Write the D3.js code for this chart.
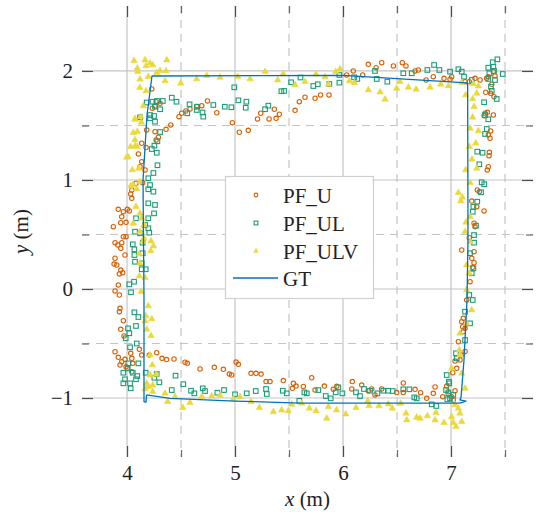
<!DOCTYPE html>
<html>
<head>
<meta charset="utf-8">
<script src="https://cdn.jsdelivr.net/npm/d3@7"></script>
<style>
  html, body { margin: 0; padding: 0; background: #fff; }
  svg { display: block; }
  svg text { font-family: "Liberation Serif", "DejaVu Serif", serif; }
</style>
</head>
<body>
<svg id="chart" width="536" height="515"></svg>
<script>
// Axis ticks
const xTicks = [4, 5, 6, 7];
const xMinorTicks = [4.5, 5.5, 6.5, 7.5];
const yTicks = [-1, 0, 1, 2];
const yMinorTicks = [-0.5, 0.5, 1.5];
const xDomain = [3.583, 7.759];
const yDomain = [-1.541, 2.596];

const seriesNames = ["PF_U", "PF_UL", "PF_ULV", "GT"];

// Particle filter estimates, uniform prior (x, y in metres)
const pfU = [
  [4.229,1.835],[4.269,1.718],[4.259,1.679],[4.234,1.658],[4.306,1.704],[4.182,1.459],[4.259,1.443],[4.29,1.392],
  [4.269,1.367],[4.361,1.465],[4.405,1.505],[4.481,1.581],[4.136,1.337],[4.176,1.298],[4.105,1.239],[4.136,1.168],
  [4.12,1.122],[4.167,1.092],[4.145,0.975],[4.083,0.97],[4.044,0.908],[4.034,0.872],[4.044,0.832],[4.003,0.731],
  [4.021,0.716],[3.966,0.709],[3.919,0.731],[3.951,0.663],[3.991,0.612],[3.942,0.608],[3.873,0.572],[3.966,0.48],
  [3.991,0.48],[3.889,0.425],[3.914,0.404],[3.951,0.425],[3.942,0.373],[3.889,0.282],[3.981,0.312],[3.88,0.229],
  [3.905,0.22],[3.942,0.174],[3.96,0.15],[3.929,0.138],[3.919,0.037],[3.889,-0.018],[3.929,-0.055],[3.935,-0.177],
  [3.929,-0.208],[3.966,-0.291],[3.942,-0.37],[3.972,-0.431],[3.889,-0.575],[3.919,-0.627],[3.981,-0.645],[3.935,-0.697],
  [3.991,-0.713],[4.034,-0.59],[4.044,-0.636],[4.053,-0.682],[4.114,-0.553],[4.136,-0.606],[4.003,-0.728],[4.044,-0.759],
  [3.951,-0.667],
  [4.206,-0.606],[4.275,-0.584],[4.324,-0.636],[4.366,-0.647],[4.435,-0.642],[4.537,-0.672],[4.558,-0.682],[4.676,-0.734],
  [4.808,-0.718],[4.892,-0.737],[4.947,-0.78],[4.969,-0.789],[5.009,-0.67],[5.031,-0.691],[5.148,-0.773],[5.194,-0.773],
  [5.241,-0.78],[5.287,-0.849],[5.324,-0.849],[5.447,-0.84],[5.54,-0.865],[5.565,-0.89],[5.531,-0.911],[5.633,-0.894],
  [5.71,-0.814],[5.741,-0.927],[5.827,-0.89],[5.91,-0.92],[5.942,-0.893],[6.086,-0.849],[6.081,-0.917],[6.173,-0.881],
  [6.234,-0.933],[6.266,-0.917],[6.296,-0.972],[6.358,-0.917],[6.497,-0.95],[6.558,-0.862],[6.558,-0.95],[6.667,-0.92],
  [6.718,-0.951],[6.775,-1.003],[6.836,-0.957],[6.852,-0.899],[6.923,-0.988],[6.96,-0.89],[6.975,-0.942],[7.006,-0.988],
  [7.037,-0.933],[7.021,-1.018],
  [7.016,-0.768],[7.037,-0.661],[7.083,-0.651],[7.093,-0.606],[7.13,-0.573],[7.053,-0.728],[7.068,-0.483],[7.114,-0.392],
  [7.13,-0.361],[7.108,-0.346],[7.099,-0.3],[7.114,-0.269],[7.145,-0.101],[7.176,0.067],[7.201,0.199],[7.213,0.241],
  [7.192,0.282],[7.213,0.342],[7.099,0.358],[7.169,0.471],[7.222,0.572],[7.213,0.603],[7.306,0.716],[7.238,0.755],
  [7.192,0.807],[7.262,0.893],[7.243,0.908],[7.336,1.092],[7.345,1.122],[7.352,1.223],[7.355,1.254],[7.361,1.383],
  [7.345,1.413],[7.367,1.45],[7.392,1.596],[7.306,1.59],[7.336,1.621],[7.315,1.612],[7.398,1.764],[7.367,1.795],
  [7.321,1.805],[7.377,1.878],[7.345,1.948],[7.33,1.933],[7.269,1.917],[7.222,1.933],[7.169,1.902],[7.13,1.902],
  [7.392,1.994],[7.407,1.954],
  [7.006,1.948],[6.991,1.924],[6.935,1.933],[6.836,1.948],[6.769,1.917],[6.697,2.009],[6.667,2.0],[6.583,2.046],
  [6.549,2.076],[6.466,2.046],[6.358,2.076],[6.306,2.03],[6.234,2.061],[6.182,1.963],[6.095,2.0],[6.034,1.963],
  [5.87,1.78],[5.792,1.78],[5.741,1.75],[5.648,1.759],[5.595,1.718],[5.556,1.639],[5.41,1.603],[5.38,1.566],
  [5.364,1.649],[5.315,1.56],[5.238,1.612],[5.208,1.56],[5.123,1.456],[5.04,1.438],[4.975,1.526],[4.831,1.617],
  [4.745,1.725],[4.692,1.682],[4.645,1.674],[4.583,1.651],[4.544,1.633],[4.506,1.612]
];

// Particle filter estimates with landmarks
const pfUL = [
  [4.182,1.711],[4.236,1.718],[4.278,1.725],[4.331,1.725],[4.414,1.755],[4.458,1.718],[4.259,1.672],[4.306,1.649],
  [4.213,1.596],[4.25,1.587],[4.259,1.535],[4.12,1.575],[4.213,1.566],[4.306,1.44],[4.281,1.355],[4.253,1.315],
  [4.229,1.284],[4.275,1.25],[4.282,1.135],[4.244,1.064],[4.197,1.016],[4.213,0.954],[4.197,0.915],[4.244,0.893],
  [4.197,0.786],[4.259,0.771],[4.083,0.649],[4.197,0.649],[4.25,0.694],[4.167,0.587],[4.197,0.557],[4.074,0.526],
  [4.12,0.511],[4.206,0.517],[4.053,0.41],[4.068,0.364],[4.068,0.312],[4.145,0.425],[4.145,0.328],[4.074,0.25],
  [4.136,0.236],[4.136,0.181],[4.173,0.181],[4.065,0.067],[4.021,0.043],[4.037,-0.03],[4.068,-0.214],[4.105,-0.257],
  [4.083,-0.339],[4.009,-0.361],[4.021,-0.406],[3.988,-0.452],[4.028,-0.535],[4.09,-0.5],[4.012,-0.682],[4.105,-0.682],
  [4.006,-0.728],[3.966,-0.768],[4.053,-0.768],[4.095,-0.798],[3.981,-0.828],[3.966,-0.865],[4.028,-0.865],[4.034,-0.911],
  [4.083,-0.828],[4.173,-0.768],[4.275,-0.78],[4.253,-0.814],[4.299,-0.856],
  [4.449,-0.795],[4.521,-0.873],[4.414,-0.927],[4.593,-0.933],[4.623,-0.957],[4.701,-0.911],[4.722,-0.936],[4.836,-0.951],
  [4.898,-0.927],[5.0,-0.966],[5.108,-0.957],[5.192,-0.936],[5.287,-0.917],[5.294,-0.963],[5.442,-0.933],[5.479,-0.957],
  [5.595,-1.025],[5.642,-0.948],[5.664,-0.957],[5.771,-0.927],[5.84,-0.982],[5.886,-1.003],[5.932,-0.948],[5.956,-0.902],
  [5.994,-0.957],[6.12,-0.948],[6.157,-0.982],[6.194,-0.917],[6.25,-0.933],[6.318,-0.957],[6.373,-0.933],[6.419,-0.933],
  [6.46,-0.936],[6.558,-0.92],[6.614,-0.92],[6.66,-0.994],[6.682,-1.003],[6.821,-1.058],[6.864,-1.073],[6.954,-0.927],
  [6.966,-1.012],[6.991,-1.003],[6.975,-0.957],[7.021,-0.972],[6.96,-0.789],[6.981,-0.85],[6.984,-0.865],
  [7.046,-0.59],[7.053,-0.636],[7.13,-0.468],[7.176,-0.315],[7.13,-0.208],[7.201,-0.101],[7.169,-0.055],[7.192,0.144],
  [7.207,0.19],[7.176,0.328],[7.213,0.425],[7.213,0.495],[7.231,0.581],[7.201,0.709],[7.207,0.755],[7.243,0.801],
  [7.278,0.887],[7.284,0.979],[7.308,0.961],[7.262,1.144],[7.243,1.26],[7.292,1.25],[7.315,1.422],[7.331,1.468],
  [7.345,1.557],[7.315,1.596],[7.306,1.713],[7.423,1.743],[7.377,1.817],[7.37,1.856],[7.345,1.927],[7.407,1.917],
  [7.479,1.972],[7.355,1.979],[7.398,2.0],[7.392,2.039],[7.345,2.03],[7.386,2.08],[7.429,2.107],
  [7.192,1.917],[7.12,1.948],[7.099,1.994],[7.068,2.016],[6.991,1.994],[6.892,2.009],[6.843,2.055],[6.781,2.009],
  [6.636,1.979],[6.558,1.979],[6.41,1.902],[6.312,1.927],[6.296,2.0],[6.132,1.927],[6.102,1.942],[5.966,1.893],
  [5.966,1.963],[5.873,1.881],[5.766,1.878],[5.725,1.862],[5.606,1.94],[5.519,1.896],[5.429,1.814],[5.454,1.817],
  [5.308,1.682],[5.278,1.649],[5.105,1.718],[5.099,1.663],[5.031,1.731],[4.993,1.85],[4.966,1.667],[4.905,1.672],
  [4.799,1.688],[4.706,1.581],[4.699,1.619],[4.65,1.672],[4.645,1.642],[4.579,1.694],[4.558,1.612]
];

// Particle filter estimates with landmarks and visual odometry
const pfULV = [
  [4.065,2.094],[4.167,2.1],[4.213,2.071],[4.368,2.1],[4.095,2.025],[4.176,2.046],[4.238,2.055],[4.099,1.994],
  [4.12,1.924],[4.197,1.948],[4.275,1.984],[4.306,2.003],[4.361,2.0],[4.352,1.908],[4.497,1.887],[4.645,1.927],
  [4.738,1.957],[4.861,1.942],[5.025,1.948],[5.139,1.927],[5.278,1.994],[5.395,1.917],[5.447,1.972],[5.556,1.872],
  [5.648,1.902],[4.118,1.847],[4.176,1.817],[4.151,1.679],[4.074,1.56],[4.127,1.581],[4.132,1.529],[4.034,1.305],
  [4.077,1.315],[4.095,1.305],[4.009,1.214],[4.074,1.367],[4.049,1.092],[4.108,1.107],[4.034,0.945],[4.09,0.917],
  [5.75,1.97],[5.833,1.945],[5.932,1.994],[5.972,2.018],[5.864,1.878],
  [6.058,1.908],[6.105,1.893],[6.234,1.826],[6.343,1.805],[6.389,1.74],[6.497,1.841],[6.528,1.902],[6.605,1.85],
  [6.676,1.832],[6.806,1.85],[6.905,1.878],[6.975,1.862],[7.099,1.893],[7.136,1.78],[7.206,1.881],[7.253,1.862],
  [7.238,1.795],[7.2,1.743],[7.213,1.672],[7.2,1.575],[7.176,1.474],[7.229,1.337],[7.169,1.305],[7.194,1.19],
  [7.238,1.107],[7.136,1.092],[7.176,0.975],[7.068,0.883],[7.105,0.841],[7.253,1.45],[7.09,0.807],[7.176,0.663],
  [7.139,0.612],[7.13,0.526],
  [7.176,0.434],[7.145,0.22],[7.169,0.144],[7.145,-0.009],[7.191,-0.193],[7.145,-0.315],[7.083,-0.406],[7.077,-0.56],
  [7.083,-0.606],[7.099,-0.773],[7.006,-0.728],[7.13,-0.911],[7.037,-1.064],[7.068,-1.094],[7.083,-1.14],[7.006,-1.172],
  [7.099,-1.217],[7.021,-1.226],[7.046,-1.263],[6.935,-1.226],[6.861,-1.135],[6.852,-1.202],[6.781,-1.165],
  [4.074,1.557],[4.095,1.443],[4.058,1.434],[3.997,1.208],[4.12,0.984],[4.053,0.954],[4.083,0.755],[4.12,0.694],
  [4.136,0.649],[4.058,0.603],[4.157,0.587],[4.12,0.526],[4.157,0.465],[4.145,0.434],[4.222,0.44],[4.244,0.394],
  [4.219,0.349],[4.114,0.321],[4.12,0.236],[4.114,0.119],[4.167,0.104],[4.13,-0.025],[4.197,-0.156],[4.173,-0.245],
  [4.229,-0.275],[4.167,-0.294],[4.182,-0.37],[4.222,-0.428],[4.213,-0.606],[4.234,-0.697],[4.213,-0.789],[4.269,-0.783],
  [4.182,-0.865],[4.238,-0.881],[4.197,-0.896],[4.167,-0.917],[4.238,-0.942],[4.352,-0.957],[4.444,-0.988],[4.377,-1.034],
  [4.516,-1.089],[4.583,-1.043],[4.692,-0.988],[4.784,-0.982],[4.861,-0.975],[4.984,-1.009],[5.046,-0.988],[5.148,-1.034],
  [5.225,-1.089],[5.355,-1.126],[5.432,-1.11],[5.494,-1.117],[5.525,-1.058],[5.618,-1.049],[5.688,-1.094],[5.75,-1.117],
  [5.849,-1.186],[5.864,-1.08],[5.94,-1.11],[6.025,-1.147],[6.12,-1.089],[6.229,-1.028],[6.241,-1.071],[6.333,-1.073],
  [6.419,-1.055],[6.456,-1.094],[6.534,-1.049],[6.583,-1.14],[6.59,-1.202],[6.682,-1.177],[6.713,-1.186]
];

// Ground-truth trajectory
const gtPath = [
  [4.18,-0.972],[4.398,-1.003],[5.0,-1.028],[5.602,-1.046],[7.083,-1.046],[7.139,-1.028],[7.083,-1.018],
  [7.093,-0.99],[7.12,-0.651],[7.148,-0.101],[7.157,0.45],[7.154,1.872],[7.148,1.89],[6.0,1.959],
  [4.231,1.954],[4.185,1.596],[4.148,1.0],[4.157,-0.101],[4.157,-1.032],[4.176,-1.037],[4.18,-0.972]
];

const colors = { u: "#d95f02", ul: "#1b9e77", ulv: "#ebd83a", gt: "#0072bd" };

const svg = d3.select("#chart");
const plotLeft = 82, plotRight = 533, plotTop = 6, plotBottom = 457;
const x = d3.scaleLinear().domain(xDomain).range([plotLeft, plotRight]);
const y = d3.scaleLinear().domain(yDomain).range([plotBottom, plotTop]);

// Grid lines
const grid = svg.append("g");
grid.selectAll(".vmaj").data(xTicks).join("line")
  .attr("x1", d => x(d)).attr("x2", d => x(d)).attr("y1", plotTop).attr("y2", plotBottom)
  .attr("stroke", "#c4c4c4").attr("stroke-width", 1.2);
grid.selectAll(".hmaj").data(yTicks).join("line")
  .attr("x1", plotLeft).attr("x2", plotRight).attr("y1", d => y(d)).attr("y2", d => y(d))
  .attr("stroke", "#c4c4c4").attr("stroke-width", 1.2);
grid.selectAll(".vmin").data(xMinorTicks).join("line")
  .attr("x1", d => x(d)).attr("x2", d => x(d)).attr("y1", plotTop).attr("y2", plotBottom)
  .attr("stroke", "#c4c4c4").attr("stroke-width", 1.2).attr("stroke-dasharray", "8,6");
grid.selectAll(".hmin").data(yMinorTicks).join("line")
  .attr("x1", plotLeft).attr("x2", plotRight).attr("y1", d => y(d)).attr("y2", d => y(d))
  .attr("stroke", "#c4c4c4").attr("stroke-width", 1.2).attr("stroke-dasharray", "8,6");

// Tick marks on all four sides, drawn inward
function styleAxis(g) {
  g.select(".domain").remove();
  g.selectAll(".tick line").attr("stroke", "#4d4d4d").attr("stroke-width", 1.2);
  g.selectAll(".tick text").attr("font-family", null).attr("font-size", 21).attr("fill", "#222");
}
function minorTicks(g, axis) {
  g.call(axis);
  g.select(".domain").remove();
  g.selectAll(".tick text").remove();
  g.selectAll(".tick line").attr("stroke", "#6a6a6a").attr("stroke-width", 1.2);
}
const fmt = d => d < 0 ? "\u2212" + Math.abs(d) : String(d);

function axisGroup(tx, ty) {
  return svg.append("g").attr("transform", `translate(${tx},${ty})`).attr("font-family", null);
}
axisGroup(0, plotBottom)
  .call(d3.axisBottom(x).tickValues(xTicks).tickSize(-11).tickPadding(8).tickFormat(fmt)).call(styleAxis);
axisGroup(0, plotTop)
  .call(d3.axisTop(x).tickValues(xTicks).tickSize(-11).tickFormat("")).call(styleAxis);
axisGroup(plotLeft, 0)
  .call(d3.axisLeft(y).tickValues(yTicks).tickSize(-11).tickPadding(9).tickFormat(fmt)).call(styleAxis);
axisGroup(plotRight, 0)
  .call(d3.axisRight(y).tickValues(yTicks).tickSize(-11).tickFormat("")).call(styleAxis);

axisGroup(0, plotBottom).call(g => minorTicks(g, d3.axisBottom(x).tickValues(xMinorTicks).tickSize(-7)));
axisGroup(0, plotTop).call(g => minorTicks(g, d3.axisTop(x).tickValues(xMinorTicks).tickSize(-7)));
axisGroup(plotLeft, 0).call(g => minorTicks(g, d3.axisLeft(y).tickValues(yMinorTicks).tickSize(-7)));
axisGroup(plotRight, 0).call(g => minorTicks(g, d3.axisRight(y).tickValues(yMinorTicks).tickSize(-7)));

// Axis groups get a font-family attribute from d3; drop it so the stylesheet applies
svg.selectAll("g").attr("font-family", null);

// Scatter series
const plot = svg.append("g");
plot.append("g").selectAll("circle").data(pfU).join("circle")
  .attr("cx", d => x(d[0])).attr("cy", d => y(d[1])).attr("r", 2.2)
  .attr("fill", "none").attr("stroke", colors.u).attr("stroke-width", 1.1);
plot.append("g").selectAll("rect").data(pfUL).join("rect")
  .attr("x", d => x(d[0]) - 2.3).attr("y", d => y(d[1]) - 2.3).attr("width", 4.6).attr("height", 4.6)
  .attr("fill", "none").attr("stroke", colors.ul).attr("stroke-width", 1.1);
const tri = d3.symbol().type(d3.symbolTriangle).size(18);
plot.append("g").selectAll("path").data(pfULV).join("path")
  .attr("transform", d => `translate(${x(d[0])},${y(d[1])})`).attr("d", tri)
  .attr("fill", colors.ulv).attr("stroke", colors.ulv).attr("stroke-width", 0.6);

// Ground truth
const line = d3.line().x(d => x(d[0])).y(d => y(d[1]));
plot.append("path").datum(gtPath).attr("d", line)
  .attr("fill", "none").attr("stroke", colors.gt).attr("stroke-width", 1.3).attr("stroke-linejoin", "round");

// Axis titles
svg.append("text").attr("x", (plotLeft + plotRight) / 2).attr("y", 506).attr("text-anchor", "middle")
  .attr("font-size", 21).attr("fill", "#222")
  .call(t => { t.append("tspan").attr("font-style", "italic").text("x"); t.append("tspan").text(" (m)"); });
svg.append("text").attr("transform", `translate(28,${(plotTop + plotBottom) / 2}) rotate(-90)`).attr("text-anchor", "middle")
  .attr("font-size", 21).attr("fill", "#222")
  .call(t => { t.append("tspan").attr("font-style", "italic").text("y"); t.append("tspan").text(" (m)"); });

// Legend
const lg = svg.append("g");
lg.append("rect").attr("x", 225.5).attr("y", 176.5).attr("width", 148).attr("height", 122)
  .attr("fill", "#fff").attr("stroke", "#cfcfcf").attr("stroke-width", 1.2);
const rowY = [195, 223, 251, 278];
const mx = 256;
lg.append("circle").attr("cx", mx).attr("cy", rowY[0]).attr("r", 1.9)
  .attr("fill", "none").attr("stroke", colors.u).attr("stroke-width", 1.1);
lg.append("rect").attr("x", mx - 1.9).attr("y", rowY[1] - 1.9).attr("width", 3.8).attr("height", 3.8)
  .attr("fill", "none").attr("stroke", colors.ul).attr("stroke-width", 1.1);
lg.append("path").attr("transform", `translate(${mx},${rowY[2]})`).attr("d", d3.symbol().type(d3.symbolTriangle).size(10))
  .attr("fill", colors.ulv).attr("stroke", colors.ulv).attr("stroke-width", 0.5);
lg.append("line").attr("x1", 233).attr("x2", 278).attr("y1", rowY[3]).attr("y2", rowY[3])
  .attr("stroke", colors.gt).attr("stroke-width", 1.3);
lg.selectAll("text").data(seriesNames).join("text")
  .attr("x", 283).attr("y", (d, i) => rowY[i] + 8)
  .attr("font-size", 21).attr("fill", "#222").text(d => d);
</script>
</body>
</html>
